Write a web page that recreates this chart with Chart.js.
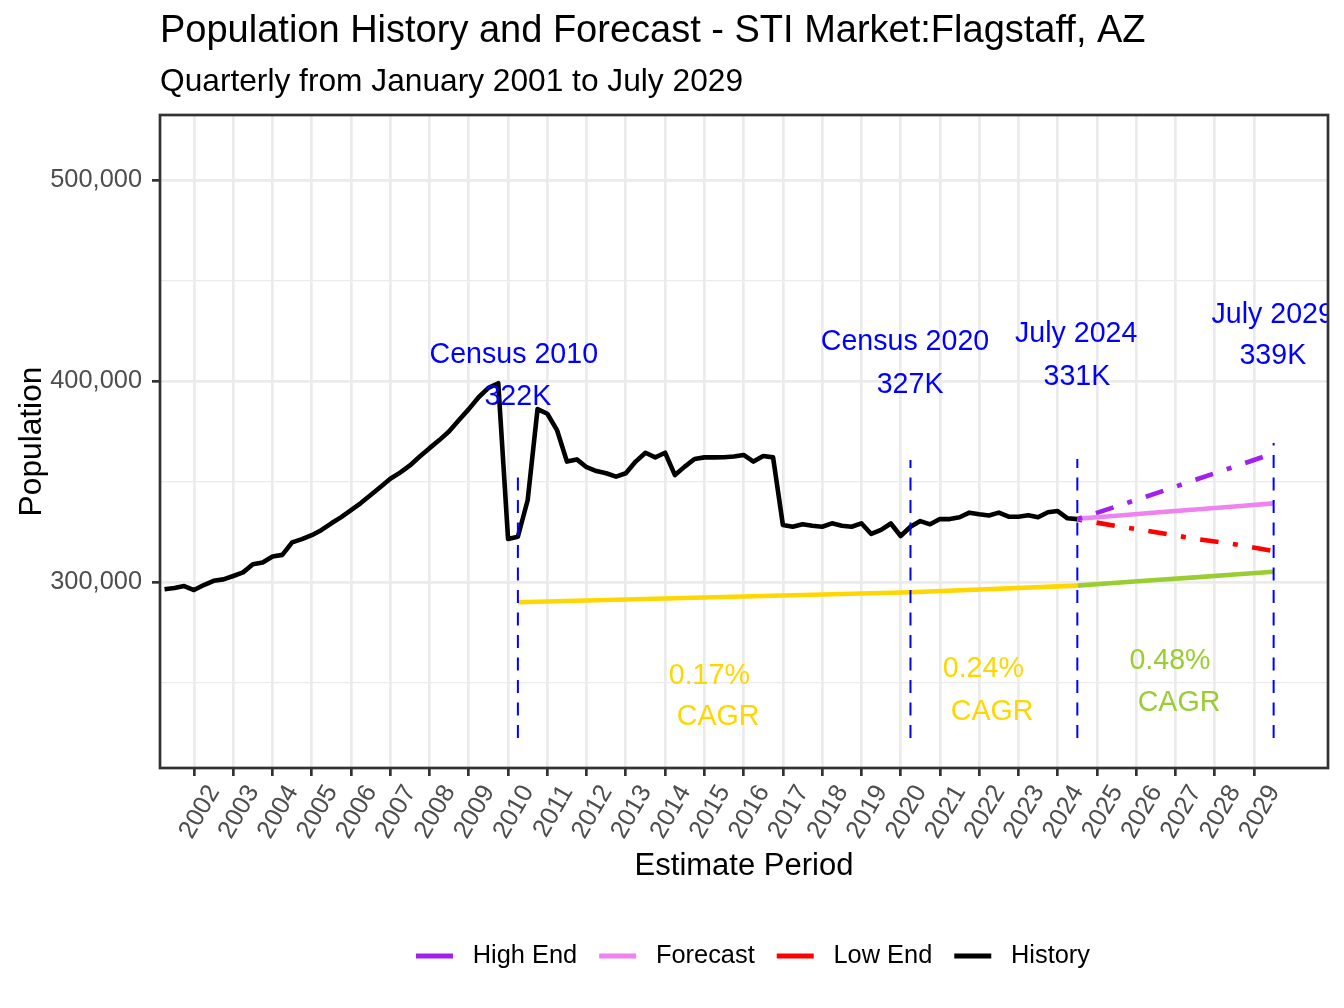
<!DOCTYPE html>
<html>
<head>
<meta charset="utf-8">
<title>Population History and Forecast - Flagstaff, AZ</title>
<script src="https://cdn.jsdelivr.net/npm/chart.js"></script>
<style>
    html, body {
        margin: 0;
        padding: 0;
        background: white;
    }

    #wrap {
        width: 1344px;
        height: 1008px;
    }
</style>
</head>
<body>
<div id="wrap"><canvas id="popChart"></canvas></div>
<script>
    // quarterly history, first point is the 2nd quarter of 2001
    const HIST_START = 2001.25;
    const HISTORY = [
        296400, 297000, 298000, 296000, 298500, 300600, 301300, 303000,
        304800, 308800, 309700, 312700, 313500, 319700, 321300, 323300,
        325900, 329200, 332300, 335800, 339300, 343300, 347300, 351400,
        354400, 358000, 362400, 366600, 370600, 375000, 380600, 386000,
        391900, 396600, 398900, 321400, 322500, 340800, 386000, 383700,
        375400, 359900, 361000, 357100, 355200, 354100, 352400, 354100,
        359900, 364300, 362000, 364300, 353200, 357400, 361200, 362000,
        362000, 362100, 362400, 363200, 359900, 362700, 362000, 328400,
        327500, 328700, 328000, 327500, 329200, 328000, 327500, 329200,
        323900, 325900, 329100, 322900, 327500, 330300, 328700, 331300,
        331300, 332200, 334500, 333700, 333100, 334500, 332500, 332500,
        333200, 332200, 334700, 335300, 331700, 331300
    ];

    const FC_YEARS = [2024.5, 2025.5, 2026.5, 2027.5, 2028.5, 2029.5];
    const FORECAST = [331500, 333000, 334600, 336100, 337600, 339100];
    const HIGH_END = [331300, 337600, 344100, 350800, 357400, 364000];
    const LOW_END = [331200, 327800, 324800, 321500, 318800, 315400];

    // CAGR guide lines under the history and forecast
    const CAGR_HIST_YEARS = [2010.25, 2015.25, 2020.25, 2024.5];
    const CAGR_HIST = [289900, 292400, 294900, 298200];
    const CAGR_FC = [298200, 299600, 301000, 302300, 303700, 305100];

    const CAGR_TEXT = ['0.17%', '0.24%', '0.48%'];
    const CAGR_COLORS = ['#FFD700', '#FFD700', '#9ACD32'];
    const CAGR_PCT_AT = [[2015.125, 253200], [2022.105, 256600], [2026.86, 260700]];
    const CAGR_WORD_AT = [[2015.35, 232800], [2022.33, 235500], [2027.09, 239800]];

    // reference dates
    const MARK_YEARS = [2010.25, 2020.25, 2024.5, 2029.5];
    const MARK_TOPS = [353200, 360700, 361200, 369200];
    const MARK_BOTTOM = 222400;
    const MARK_NAMES = ['Census 2010', 'Census 2020', 'July 2024', 'July 2029'];
    const MARK_VALUES = ['322K', '327K', '331K', '339K'];
    const MARK_NAME_AT = [[2010.146, 412900], [2020.11, 419400], [2024.47, 423400], [2029.476, 433000]];
    const MARK_VALUE_AT = [[2010.248, 391900], [2020.24, 398000], [2024.49, 402000], [2029.48, 412300]];

    const X_TICKS = [2002, 2003, 2004, 2005, 2006, 2007, 2008, 2009, 2010, 2011, 2012, 2013, 2014, 2015,
        2016, 2017, 2018, 2019, 2020, 2021, 2022, 2023, 2024, 2025, 2026, 2027, 2028, 2029];
    const Y_TICKS = [250000, 300000, 350000, 400000, 450000, 500000];
    const Y_LABELED = [300000, 400000, 500000];

    const SERIES_NAMES = ['High End', 'Forecast', 'Low End', 'History'];

    const FONT = "'Liberation Sans', Arial, Helvetica, sans-serif";
    Chart.defaults.font.family = FONT;

    const toXY = (xs, ys) => ys.map((v, i) => ({ x: xs[i], y: v }));
    const histPoints = HISTORY.map((v, i) => ({ x: HIST_START + i / 4, y: v }));

    const lineBase = {
        pointRadius: 0,
        pointHoverRadius: 0,
        fill: false,
        tension: 0,
        borderWidth: 4.6,
        borderCapStyle: 'butt',
        borderJoinStyle: 'round'
    };
    const dotDash = [5, 14.5, 18.5, 14.5];

    const datasets = [
        { ...lineBase, label: 'High End', data: toXY(FC_YEARS, HIGH_END), borderColor: '#A020F0', borderDash: dotDash },
        { ...lineBase, label: 'Forecast', data: toXY(FC_YEARS, FORECAST), borderColor: '#EE82EE' },
        { ...lineBase, label: 'Low End', data: toXY(FC_YEARS, LOW_END), borderColor: '#FF0000', borderDash: dotDash },
        { ...lineBase, label: 'History', data: histPoints, borderColor: '#000000' },
        { ...lineBase, label: 'CAGR 2010-2024', data: toXY(CAGR_HIST_YEARS, CAGR_HIST), borderColor: '#FFD700', order: 1 },
        { ...lineBase, label: 'CAGR 2024-2029', data: toXY(FC_YEARS, CAGR_FC), borderColor: '#9ACD32', order: 1 }
    ];
    MARK_YEARS.forEach((yr, i) => {
        datasets.push({
            ...lineBase,
            label: MARK_NAMES[i],
            data: [{ x: yr, y: MARK_BOTTOM }, { x: yr, y: MARK_TOPS[i] }],
            borderColor: '#0000FF',
            borderWidth: 2,
            borderDash: [13, 9.5],
            order: -1
        });
    });

    const textLayer = {
        id: 'textLayer',
        afterLayout(chart) {
            // ggplot centres the legend a little right of the panel centre
            if (chart.legend) {
                chart.legend.left += 9;
                chart.legend.right += 9;
            }
        },
        afterDatasetsDraw(chart) {
            const { ctx, chartArea: a, scales: { x, y } } = chart;
            ctx.save();
            ctx.beginPath();
            ctx.rect(a.left, a.top, a.right - a.left, a.bottom - a.top);
            ctx.clip();
            ctx.font = '28.6px ' + FONT;
            ctx.textAlign = 'center';
            ctx.textBaseline = 'middle';
            ctx.fillStyle = '#0000FF';
            MARK_NAMES.forEach((t, i) => {
                ctx.fillText(t, x.getPixelForValue(MARK_NAME_AT[i][0]), y.getPixelForValue(MARK_NAME_AT[i][1]));
                ctx.fillText(MARK_VALUES[i], x.getPixelForValue(MARK_VALUE_AT[i][0]), y.getPixelForValue(MARK_VALUE_AT[i][1]));
            });
            CAGR_TEXT.forEach((t, i) => {
                ctx.fillStyle = CAGR_COLORS[i];
                ctx.fillText(t, x.getPixelForValue(CAGR_PCT_AT[i][0]), y.getPixelForValue(CAGR_PCT_AT[i][1]));
                ctx.fillText('CAGR', x.getPixelForValue(CAGR_WORD_AT[i][0]), y.getPixelForValue(CAGR_WORD_AT[i][1]));
            });
            ctx.restore();

            // panel border on top, like theme_bw
            ctx.save();
            ctx.strokeStyle = '#333333';
            ctx.lineWidth = 2.7;
            ctx.strokeRect(a.left, a.top, a.right - a.left, a.bottom - a.top);
            ctx.restore();
        }
    };

    new Chart(document.getElementById('popChart'), {
        type: 'line',
        data: { datasets },
        plugins: [textLayer],
        options: {
            responsive: true,
            maintainAspectRatio: false,
            animation: false,
            layout: { padding: { top: 0, right: 16, bottom: 29.3, left: 0 } },
            plugins: {
                tooltip: { enabled: false },
                title: {
                    display: true,
                    text: 'Population History and Forecast - STI Market:Flagstaff, AZ',
                    align: 'start',
                    fullSize: false,
                    color: '#000000',
                    font: { size: 38, weight: 'normal' },
                    padding: { top: 9.2, bottom: 0 }
                },
                subtitle: {
                    display: true,
                    text: 'Quarterly from January 2001 to July 2029',
                    align: 'start',
                    fullSize: false,
                    color: '#000000',
                    font: { size: 31.7, weight: 'normal' },
                    padding: { top: 8.2, bottom: 13.96 }
                },
                legend: {
                    position: 'bottom',
                    align: 'center',
                    fullSize: false,
                    labels: {
                        usePointStyle: true,
                        pointStyle: 'line',
                        pointStyleWidth: 37,
                        padding: 22,
                        color: '#000000',
                        font: { size: 25.4 },
                        generateLabels: chart => Chart.defaults.plugins.legend.labels.generateLabels(chart)
                            .filter(item => SERIES_NAMES.includes(item.text))
                            .map(item => Object.assign(item, { text: ' ' + item.text, lineDash: [], lineWidth: 5, lineCap: 'butt' }))
                    }
                }
            },
            scales: {
                x: {
                    type: 'linear',
                    min: 2001.134,
                    max: 2030.885,
                    afterBuildTicks: s => { s.ticks = X_TICKS.map(v => ({ value: v })); },
                    afterFit: s => { s.height = 153.3; },
                    ticks: {
                        autoSkip: false,
                        minRotation: 60,
                        maxRotation: 60,
                        padding: 4,
                        labelOffset: 20,
                        color: '#4D4D4D',
                        font: { size: 25.4 },
                        callback: v => String(v)
                    },
                    grid: { color: '#EBEBEB', lineWidth: 2.7, tickColor: '#333333', tickLength: 8, tickWidth: 2.7 },
                    border: { display: false },
                    title: {
                        display: true,
                        text: 'Estimate Period',
                        color: '#000000',
                        font: { size: 31 },
                        padding: { top: 0, bottom: 36 }
                    }
                },
                y: {
                    type: 'linear',
                    min: 207463,
                    max: 532338,
                    afterBuildTicks: s => { s.ticks = Y_TICKS.map(v => ({ value: v })); },
                    afterFit: s => { s.width = 160; },
                    ticks: {
                        padding: 10,
                        color: '#4D4D4D',
                        font: { size: 25.4 },
                        callback: v => Y_LABELED.includes(v) ? v.toLocaleString('en-US') : ''
                    },
                    grid: {
                        color: '#EBEBEB',
                        lineWidth: c => Y_LABELED.includes(c.tick.value) ? 2.7 : 1.35,
                        tickColor: c => Y_LABELED.includes(c.tick.value) ? '#333333' : 'rgba(0,0,0,0)',
                        tickLength: 8,
                        tickWidth: 2.7
                    },
                    border: { display: false },
                    title: {
                        display: true,
                        text: 'Population',
                        color: '#000000',
                        font: { size: 31.7 },
                        padding: { top: 13.5, bottom: 0 }
                    }
                }
            }
        }
    });
</script>
</body>
</html>
